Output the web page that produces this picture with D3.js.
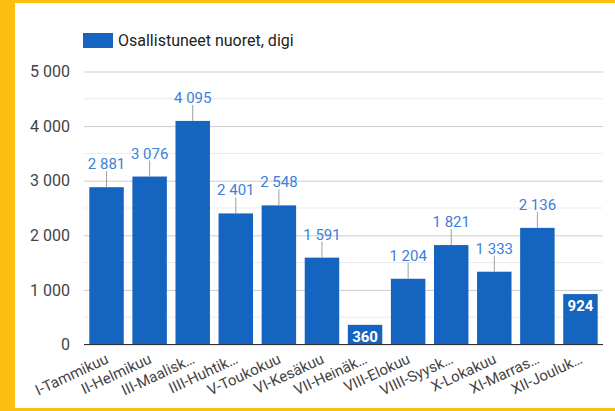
<!DOCTYPE html>
<html>
<head>
<meta charset="utf-8">
<script src="https://cdn.jsdelivr.net/npm/d3@7"></script>
<style>
	html, body { margin: 0; padding: 0; background: #fff; }
	svg { display: block; font-family: Roboto, Arial, sans-serif; }
</style>
</head>
<body>
<svg id="chart" width="615" height="411"></svg>
<script>
var months = ['I-Tammikuu', 'II-Helmikuu', 'III-Maalisk\u2026', 'IIII-Huhtik\u2026', 'V-Toukokuu', 'VI-Kes\u00e4kuu',
			'VII-Hein\u00e4k\u2026', 'VIII-Elokuu', 'VIIII-Syysk\u2026', 'X-Lokakuu', 'XI-Marras\u2026', 'XII-Jouluk\u2026']
var participants = [2881, 3076, 4095, 2401, 2548, 1591, 360, 1204, 1821, 1333, 2136, 924]
var yTicks = [0, 1000, 2000, 3000, 4000, 5000]
var yMinorTicks = [500, 1500, 2500, 3500, 4500]
var seriesName = 'Osallistuneet nuoret, digi'

var WIDTH = 615,
	HEIGHT = 411

var BAR_COLOR = '#1565c0',
	LABEL_COLOR = '#3d80d8',
	LEADER_COLOR = '#9e9e9e',
	GRID_COLOR = '#cccccc',
	MINOR_GRID_COLOR = '#ebebeb',
	TEXT_COLOR = '#444',
	FRAME_COLOR = '#fec010'

var svg = d3.select('#chart')

// yellow frame round the white panel
svg.append('rect')
	.attr('width', WIDTH).attr('height', HEIGHT)
	.attr('fill', FRAME_COLOR)
svg.append('rect')
	.attr('x', 15).attr('y', 3)
	.attr('width', WIDTH - 15).attr('height', 405)
	.attr('fill', '#fff')

var fmt = d3.formatLocale({ decimal: ',', thousands: ' ', grouping: [3], currency: ['', '€'] }).format(',d')

var x = d3.scaleBand()
	.domain(months)
	.range([85, 602])
	.paddingInner(0.2)
	.paddingOuter(0.1)

var y = d3.scaleLinear()
	.domain([0, 5000])
	.range([344.5, 71.5])

// minor and major gridlines
svg.append('g').selectAll('line')
	.data(yMinorTicks)
	.enter().append('line')
		.attr('x1', 84).attr('x2', 603)
		.attr('y1', function(d){ return y(d) }).attr('y2', function(d){ return y(d) })
		.style('stroke', MINOR_GRID_COLOR)

var yAxis = svg.append('g')
	.attr('transform', 'translate(84,0)')
	.call(d3.axisLeft(y).tickValues(yTicks).tickFormat(fmt).tickSize(-519).tickPadding(14))

yAxis.select('.domain').remove()
yAxis.selectAll('.tick line').style('stroke', GRID_COLOR)
yAxis.selectAll('.tick text')
	.attr('font-size', 16)
	.attr('font-family', 'Roboto, Arial, sans-serif')
	.attr('fill', TEXT_COLOR)

// bars
svg.append('g').selectAll('rect')
	.data(participants)
	.enter().append('rect')
		.attr('x', function(d, i){ return x(months[i]) })
		.attr('y', function(d){ return y(d) })
		.attr('width', x.bandwidth())
		.attr('height', function(d){ return y(0) - y(d) })
		.attr('fill', BAR_COLOR)

// baseline
svg.append('line')
	.attr('x1', 84).attr('x2', 603)
	.attr('y1', y(0)).attr('y2', y(0))
	.style('stroke', '#333')
	.style('stroke-width', 1)

// value labels: above with a leader line, or inside the short bars
var labels = svg.append('g').selectAll('g')
	.data(participants)
	.enter().append('g')
	.attr('transform', function(d, i){ return 'translate(' + (x(months[i]) + x.bandwidth() / 2) + ',' + y(d) + ')' })

labels.each(function(d){
	var g = d3.select(this)
	if (d < 1000) {
		g.append('text')
			.text(fmt(d))
			.attr('text-anchor', 'middle')
			.attr('dy', 17)
			.attr('font-size', 15)
			.attr('font-weight', 'bold')
			.attr('fill', '#fff')
	} else {
		g.append('line')
			.attr('y1', -16).attr('y2', 0)
			.style('stroke', LEADER_COLOR)
		g.append('text')
			.text(fmt(d))
			.attr('text-anchor', 'middle')
			.attr('dy', -18)
			.attr('font-size', 15)
			.attr('fill', LABEL_COLOR)
	}
})

// slanted month labels
svg.append('g').selectAll('text')
	.data(months)
	.enter().append('text')
		.text(function(d){ return d })
		.attr('text-anchor', 'end')
		.attr('font-size', 15)
		.attr('fill', TEXT_COLOR)
		.attr('transform', function(d){
			return 'translate(' + (x(d) + x.bandwidth() / 2 + 3) + ',' + (y(0) + 18) + ') rotate(-25)'
		})

// legend
var legend = svg.append('g').attr('transform', 'translate(83,33)')
legend.append('rect')
	.attr('width', 30).attr('height', 15)
	.attr('fill', BAR_COLOR)
legend.append('text')
	.text(seriesName)
	.attr('x', 35).attr('y', 13)
	.attr('font-size', 16)
	.attr('fill', '#222')
</script>
</body>
</html>
